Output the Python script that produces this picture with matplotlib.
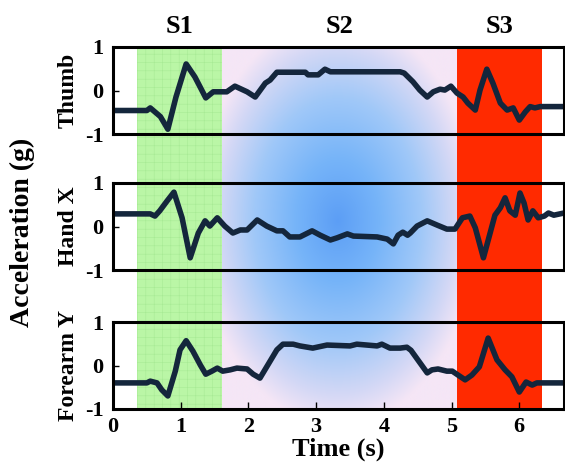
import numpy as np
import matplotlib
matplotlib.use("Agg")
import matplotlib.pyplot as plt
import matplotlib.transforms as mtransforms

plt.rcParams['font.family'] = ['Liberation Serif', 'DejaVu Serif']
plt.rcParams['font.weight'] = 'bold'
plt.rcParams['axes.labelweight'] = 'bold'
plt.rcParams['axes.unicode_minus'] = False
plt.rcParams['hatch.linewidth'] = 0.4

# Phase boundaries (s) and labels
phase_edges = [0.355, 1.61, 5.08, 6.34]
phase_names = ["S1", "S2", "S3"]

# Thumb acceleration (g)
thumb_t = [0.0, 0.50, 0.55, 0.70, 0.81, 0.93, 1.08, 1.21, 1.37, 1.48, 1.68, 1.80, 1.98,
           2.10, 2.25, 2.32, 2.42, 2.84, 2.88, 3.03, 3.13, 3.21, 4.24, 4.30, 4.43, 4.53,
           4.64, 4.73, 4.83, 4.90, 4.99, 5.08, 5.17, 5.24, 5.35, 5.42, 5.52, 5.61, 5.72,
           5.82, 5.91, 6.00, 6.09, 6.16, 6.23, 6.31, 6.66]
thumb_y = [-0.46, -0.46, -0.40, -0.60, -0.89, -0.15, 0.61, 0.31, -0.17, -0.03, -0.03, 0.10, -0.03,
           -0.15, 0.17, 0.24, 0.42, 0.42, 0.36, 0.36, 0.49, 0.43, 0.43, 0.40, 0.20, 0.01,
           -0.15, -0.03, 0.03, 0.01, 0.10, -0.06, -0.15, -0.29, -0.45, 0.01, 0.49, 0.17, -0.29,
           -0.45, -0.40, -0.68, -0.49, -0.37, -0.40, -0.37, -0.37]

# Hand X acceleration (g)
hand_t = [0.0, 0.55, 0.62, 0.69, 0.80, 0.90, 1.02, 1.14, 1.26, 1.36, 1.43, 1.54, 1.65, 1.77,
          1.88, 1.98, 2.13, 2.27, 2.42, 2.51, 2.61, 2.76, 2.94, 3.06, 3.21, 3.31, 3.46, 3.55,
          3.90, 4.05, 4.14, 4.21, 4.28, 4.35, 4.39, 4.49, 4.64, 4.79, 4.93, 5.05, 5.16, 5.27,
          5.35, 5.47, 5.55, 5.64, 5.72, 5.79, 5.86, 5.94, 6.01, 6.07, 6.13, 6.20, 6.28, 6.37,
          6.43, 6.51, 6.66]
hand_y = [0.29, 0.29, 0.24, 0.36, 0.59, 0.79, 0.20, -0.72, -0.15, 0.13, 0.01, 0.20, 0.01, -0.15,
          -0.08, -0.08, 0.15, 0.01, -0.10, -0.10, -0.24, -0.24, -0.10, -0.20, -0.31, -0.26, -0.17, -0.22,
          -0.24, -0.29, -0.40, -0.20, -0.13, -0.20, -0.15, 0.01, 0.13, 0.03, -0.06, -0.06, 0.20, 0.24,
          -0.03, -0.72, -0.26, 0.26, 0.43, 0.66, 0.36, 0.26, 0.77, 0.54, 0.15, 0.36, 0.20, 0.24,
          0.31, 0.26, 0.31]

# Forearm Y acceleration (g)
fore_t = [0.0, 0.50, 0.55, 0.65, 0.72, 0.81, 0.92, 0.99, 1.08, 1.18, 1.29, 1.37, 1.46, 1.54,
          1.62, 1.73, 1.83, 1.98, 2.07, 2.17, 2.32, 2.42, 2.51, 2.66, 2.76, 2.95, 3.16, 3.50,
          3.60, 3.90, 3.97, 4.09, 4.24, 4.34, 4.40, 4.64, 4.71, 4.80, 4.93, 5.01, 5.20, 5.30,
          5.41, 5.54, 5.67, 5.79, 5.89, 6.00, 6.10, 6.19, 6.26, 6.66]
fore_y = [-0.40, -0.40, -0.36, -0.40, -0.56, -0.70, -0.13, 0.36, 0.57, 0.33, 0.01, -0.20, -0.13, -0.06,
          -0.13, -0.10, -0.06, -0.08, -0.20, -0.29, 0.10, 0.36, 0.49, 0.49, 0.45, 0.40, 0.47, 0.45,
          0.49, 0.45, 0.49, 0.40, 0.40, 0.42, 0.35, -0.17, -0.10, -0.08, -0.13, -0.13, -0.33, -0.22,
          -0.03, 0.63, 0.13, -0.10, -0.26, -0.61, -0.38, -0.45, -0.40, -0.40]

series = [("Thumb", thumb_t, thumb_y), ("Hand X", hand_t, hand_y), ("Forearm Y", fore_t, fore_y)]
xticks = [0, 1, 2, 3, 4, 5, 6]
yticks = [-1, 0, 1]
xmax = 6.66

W, H = 565, 466
fig = plt.figure(figsize=(W / 100, H / 100), dpi=100)

left, width = 113 / W, (564 - 113) / W
tops = [47, 183, 322]
ax_h = 87

# background shading behind all three panels
bg_bottom = 1 - 409 / H
bg_top = 1 - 47 / H
bg = fig.add_axes([left, bg_bottom, width, bg_top - bg_bottom], zorder=0)
bg.set_xlim(0, xmax)
bg.set_ylim(0, 1)
bg.axis("off")
bg.axvspan(phase_edges[0], phase_edges[1], facecolor="#baf6a6", edgecolor="#a8ea95",
           hatch="++", linewidth=0)
bg.axvspan(phase_edges[2], phase_edges[3], facecolor="#ff2a00", linewidth=0)

# pink region with blue glow
gx = np.linspace(phase_edges[1], phase_edges[2], 300)
gy = np.linspace(0, 1, 300)
GX, GY = np.meshgrid(gx, gy)
dx = (GX - 3.32) * 67.7 / 140
dy = (GY - 0.52) * 362 / 205
d = np.sqrt(dx ** 2 + dy ** 2)
stops = [0.0, 0.3, 0.6, 0.85, 1.0]
rgb_stops = [(92, 158, 245), (118, 180, 249), (160, 200, 248), (212, 216, 245), (245, 230, 246)]
img = np.zeros(d.shape + (3,))
for c in range(3):
    img[..., c] = np.interp(d, stops, [s[c] for s in rgb_stops]) / 255
bg.imshow(img, extent=(phase_edges[1], phase_edges[2], 0, 1), origin="lower",
          aspect="auto", interpolation="bilinear")

axes = []
for i, (name, t, y) in enumerate(series):
    bottom = 1 - (tops[i] + ax_h) / H
    ax = fig.add_axes([left, bottom, width, ax_h / H], zorder=1)
    ax.set_facecolor("none")
    ax.plot(t, y, color="#14263c", lw=4, solid_capstyle="round", solid_joinstyle="round")
    ax.set_xlim(0, xmax)
    ax.set_ylim(-1, 1)
    ax.set_yticks(yticks)
    ax.set_yticklabels([str(v) for v in yticks])
    ax.set_xticks(xticks)
    for s in ax.spines.values():
        s.set_linewidth(2.2)
    ax.tick_params(axis="y", direction="in", length=4, width=1, labelsize=16, pad=7)
    ax.tick_params(axis="x", direction="in", length=5, width=1, labelsize=16, pad=6, top=False)
    if i < 2:
        ax.tick_params(axis="x", bottom=False, labelbottom=False)
    yc = 1 - (tops[i] + ax_h / 2) / H
    fig.text(68 / W, yc, name, rotation=90, ha="center", va="center", fontsize=17)
    axes.append(ax)

axes[2].set_xlabel("Time (s)", fontsize=19, labelpad=0)
fig.text(22 / W, 1 - 232 / H, "Acceleration (g)", rotation=90, ha="center", va="center",
         fontsize=20)

trans = mtransforms.blended_transform_factory(axes[0].transData, axes[0].transAxes)
for k, name in enumerate(phase_names):
    xm = (phase_edges[k] + phase_edges[k + 1]) / 2
    axes[0].text(xm, 1.23, name, transform=trans, ha="center", va="center", fontsize=19)

fig.savefig("out.png", dpi=100)
